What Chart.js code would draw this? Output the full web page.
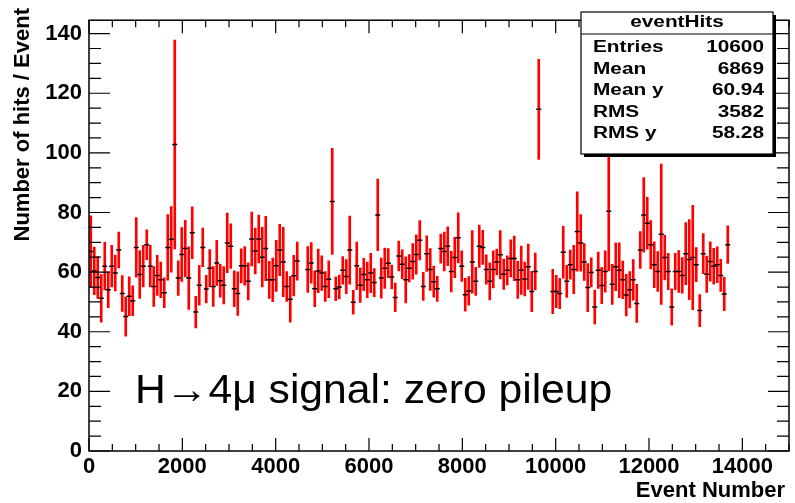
<!DOCTYPE html>
<html>
<head>
<meta charset="utf-8">
<title>eventHits</title>
<script src="https://cdn.jsdelivr.net/npm/chart.js@4/dist/chart.umd.min.js"></script>
<style>
  html, body { margin: 0; padding: 0; background: #fff; }
  #chart { display: block; }
</style>
</head>
<body>
<canvas id="chart" width="795" height="503"></canvas>
<script>
// profile of hits per event, bins of 75 events (null = empty bin)
const BIN_WIDTH = 75;
const hitsPerEvent = [
  66.9, 60.4, 58.2, 51.2, 62.0, 54.1, 62.0, 59.7, 67.4, 52.8,
  45.1, 51.9, 50.4, 68.3, 59.2, 62.0, 69.2, 62.0, 55.2, 58.9,
  57.4, 53.1, 68.3, 71.0, 102.8, 58.0, 65.9, 67.9, 58.0, 73.2,
  46.6, 55.6, 68.3, 54.3, 61.3, 55.2, 63.1, 57.1, 55.6, 69.8,
  68.7, 54.4, 52.8, 62.1, 62.1, 56.9, 71.1, 67.1, 71.1, 65.0,
  67.9, 57.4, 57.4, 62.1, 67.4, 63.4, 55.2, 50.9, 58.8, 63.7,
  null, null, 60.9, 63.1, 54.4, 60.4, 59.7, 55.2, 57.6, 83.7,
  54.4, 55.0, 60.6, 58.5, 67.4, 49.9, 62.1, 55.6, 59.2, 57.4,
  59.7, 56.5, 79.2, 58.0, 61.3, 63.0, 58.4, 51.5, 65.4, 62.6,
  57.4, 61.3, 63.6, 65.9, 70.7, 55.2, 66.2, 60.9, 56.8, 54.4,
  67.9, 66.9, 68.7, 60.2, 64.9, 71.5, 62.0, 52.4, 53.7, 63.4,
  56.9, 68.7, 68.3, 60.9, 56.9, 60.9, 63.4, 65.8, 59.3, 60.6,
  64.6, 64.6, 57.4, 60.6, 57.7, 61.8, 53.5, 60.2, 114.6, null,
  null, null, 53.5, 53.5, 52.8, 66.7, 56.9, 62.5, 60.9, 73.6,
  69.8, 63.4, 54.8, 59.9, 48.3, 60.6, 55.5, 60.2, 80.4, 55.9,
  61.8, 60.6, 57.4, 52.3, 54.1, 57.4, 49.5, 67.4, 79.2, 76.4,
  69.2, 62.5, 60.2, 72.7, 64.9, 60.2, 48.3, 60.2, 60.2, 58.9,
  66.2, 64.2, 64.9, 62.5, 47.1, 66.2, 59.3, 63.6, 62.0, 62.5,
  58.9, 52.7, 69.2
];
const hitErrors = [
  12, 8, 7, 8, 8, 6, 7, 6, 6, 6,
  6.6, 6.5, 5, 10, 8, 7, 5, 7, 6.7, 6.7,
  6, 5, 11, 11, 35, 5.8, 9, 9.5, 10.5, 8.7,
  5.3, 6.7, 6.5, 4.6, 6.3, 6.7, 7.6, 5.5, 6.3, 10,
  7.5, 6, 7.3, 5.7, 6.5, 6.2, 9, 7.7, 8, 10,
  10.8, 6.2, 7.3, 8.6, 8.6, 11.6, 5, 7.7, 6.8, 6.4,
  null, null, 7.7, 6.8, 6, 7.3, 5.8, 5, 6.2, 17.8,
  4, 4, 4.6, 5.7, 11.4, 4, 8, 5.8, 5.4, 6,
  6.6, 4.7, 12, 6.7, 6.8, 4.9, 4, 4.8, 5, 4.9,
  7.7, 4.6, 6, 6.6, 6.6, 4.7, 6, 7, 5.2, 4.2,
  4.9, 6.5, 6.5, 6.8, 6.8, 8.4, 5.1, 5.5, 4.8, 10.5,
  4.7, 7.1, 5.7, 4.9, 6.2, 6.2, 4.3, 8.1, 5.1, 4.9,
  6.2, 7.5, 6.2, 8.1, 5.7, 7.6, 6.8, 6.2, 16.8, null,
  null, null, 7.4, 5.4, 5.1, 8.7, 5.4, 4.9, 8.1, 13.3,
  9.5, 6.2, 8.1, 4.9, 5.7, 6.1, 6.1, 6.9, 20, 6.7,
  8, 9.2, 6.3, 7, 6.1, 6.8, 6.4, 6.2, 12.5, 8.7,
  8.1, 7.7, 6.7, 23.5, 7.5, 6.1, 6.1, 6.1, 7, 6,
  10.4, 13.4, 17.5, 5.7, 5.4, 6.7, 6.1, 6.6, 6, 6,
  5.4, 5.6, 6.3
];

const xTicks = [0, 2000, 4000, 6000, 8000, 10000, 12000, 14000];
const yTicks = [0, 20, 40, 60, 80, 100, 120, 140];

const statsTitle = "eventHits";
const statsLabels = ["Entries", "Mean", "Mean y", "RMS", "RMS y"];
const statsValues = ["10600", "6869", "60.94", "3582", "58.28"];

const X_MAX = 15000;
const Y_MAX = 144.5;
const FONT = "'Liberation Sans', Arial, Helvetica, sans-serif";

const points = [];
const errorBars = [];
hitsPerEvent.forEach((v, i) => {
  if (v === null) return;
  const x = (i + 0.5) * BIN_WIDTH;
  points.push({ x: x, y: v });
  errorBars.push({ x: x, y: [v - hitErrors[i], v + hitErrors[i]] });
});

function stretchText(ctx, text, x, y, align, sx) {
  ctx.save();
  ctx.translate(x, y);
  ctx.scale(sx, 1);
  ctx.textAlign = align;
  ctx.fillText(text, 0, 0);
  ctx.restore();
}

const rootFrame = {
  id: "rootFrame",
  afterDraw(chart) {
    const ctx = chart.ctx;
    const a = chart.chartArea;
    const xs = chart.scales.x;
    const ys = chart.scales.y;

    ctx.save();
    ctx.strokeStyle = "#000";
    ctx.lineWidth = 1.5;
    ctx.strokeRect(a.left, a.top, a.right - a.left, a.bottom - a.top);

    // ticks pointing inward on all four sides
    ctx.lineWidth = 1.2;
    ctx.beginPath();
    for (let v = 0; v <= X_MAX; v += 500) {
      const px = xs.getPixelForValue(v);
      const len = v % 2000 === 0 ? 13 : 7;
      ctx.moveTo(px, a.bottom); ctx.lineTo(px, a.bottom - len);
      ctx.moveTo(px, a.top); ctx.lineTo(px, a.top + len);
    }
    for (let v = 0; v <= Y_MAX; v += 5) {
      const py = ys.getPixelForValue(v);
      const len = v % 20 === 0 ? 21 : 12;
      ctx.moveTo(a.left, py); ctx.lineTo(a.left + len, py);
      ctx.moveTo(a.right, py); ctx.lineTo(a.right - len, py);
    }
    ctx.stroke();

    // axis titles
    ctx.fillStyle = "#000";
    ctx.font = "bold 22px " + FONT;
    ctx.textBaseline = "alphabetic";
    ctx.textAlign = "right";
    ctx.fillText("Event Number", 785, 497);
    ctx.save();
    ctx.translate(29, 8);
    ctx.rotate(-Math.PI / 2);
    ctx.textAlign = "right";
    ctx.fillText("Number of hits / Event", 0, 0);
    ctx.restore();

    // annotation
    ctx.font = "41px " + FONT;
    ctx.textBaseline = "alphabetic";
    stretchText(ctx, "H\u21924\u03bc signal: zero pileup", 135, 403, "left", 1.04);

    // stats box
    const bx = 581, by = 12, bw = 192, bh = 142;
    ctx.fillStyle = "#000";
    ctx.fillRect(bx + 3, by + 3, bw, bh);
    ctx.fillStyle = "#fff";
    ctx.fillRect(bx, by, bw, bh);
    ctx.lineWidth = 1.2;
    ctx.strokeStyle = "#000";
    ctx.strokeRect(bx, by, bw, bh);
    ctx.beginPath();
    ctx.moveTo(bx, by + 22); ctx.lineTo(bx + bw, by + 22);
    ctx.stroke();
    ctx.fillStyle = "#000";
    ctx.font = "bold 16px " + FONT;
    ctx.textBaseline = "middle";
    stretchText(ctx, statsTitle, bx + bw / 2, by + 11, "center", 1.3);
    statsLabels.forEach((lab, k) => {
      const ty = 48 + k * 21.5;
      stretchText(ctx, lab, 593, ty, "left", 1.3);
      stretchText(ctx, statsValues[k], 764, ty, "right", 1.3);
    });
    ctx.restore();
  }
};

new Chart(document.getElementById("chart"), {
  type: "scatter",
  data: {
    datasets: [
      {
        type: "bar",
        data: errorBars,
        backgroundColor: "#ff0000",
        borderWidth: 0,
        barThickness: 2,
        grouped: false,
        order: 2
      },
      {
        type: "scatter",
        data: points,
        pointStyle: "line",
        pointRadius: 2.5,
        borderColor: "#000",
        backgroundColor: "#000",
        pointBorderWidth: 1.5,
        order: 1
      }
    ]
  },
  options: {
    responsive: false,
    animation: false,
    devicePixelRatio: 1,
    layout: { padding: { top: 6, right: 6, left: 0, bottom: 0 } },
    plugins: {
      legend: { display: false },
      tooltip: { enabled: false }
    },
    scales: {
      x: {
        type: "linear",
        min: 0,
        max: X_MAX,
        offset: false,
        grid: { display: false, offset: false, drawTicks: false },
        border: { display: false },
        afterBuildTicks: (s) => { s.ticks = xTicks.map(v => ({ value: v })); },
        afterFit: (s) => { s.height = 52; },
        ticks: {
          color: "#000",
          padding: 3,
          maxRotation: 0,
          autoSkip: false,
          font: { family: FONT, size: 22, weight: "bold" },
          callback: (v) => String(v)
        }
      },
      y: {
        type: "linear",
        min: 0,
        max: Y_MAX,
        grid: { display: false, drawTicks: false },
        border: { display: false },
        afterBuildTicks: (s) => { s.ticks = yTicks.map(v => ({ value: v })); },
        afterFit: (s) => { s.width = 89; },
        ticks: {
          color: "#000",
          padding: 7,
          autoSkip: false,
          font: { family: FONT, size: 22, weight: "bold" },
          callback: (v) => String(v)
        }
      }
    }
  },
  plugins: [rootFrame]
});
</script>
</body>
</html>
